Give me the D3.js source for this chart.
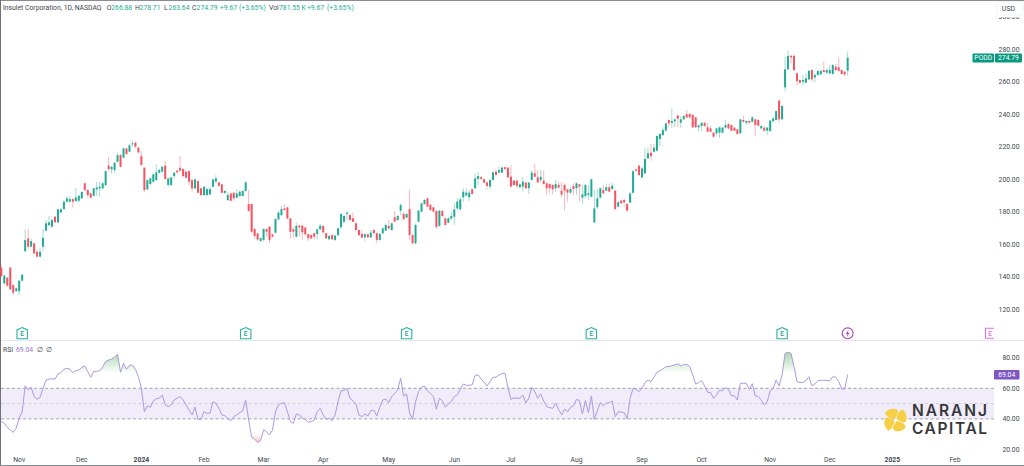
<!DOCTYPE html>
<html><head><meta charset="utf-8">
<script src="https://cdn.jsdelivr.net/npm/d3@7"></script>
<style>html,body{margin:0;padding:0;background:#fff;overflow:hidden}svg{display:block}text{font-family:Roboto,sans-serif}</style>
</head><body><svg id="c" width="1024" height="466"></svg>
<script>
const opens=[145.6,136,139.4,145.6,134.9,131.2,131.2,137.6,155.8,163.6,
158.5,160.6,155.4,152.4,158.5,168.4,171.8,170.8,177,173.5,
179.6,181.7,186.2,186.2,187.8,186.6,186.8,188.3,197.5,193.4,
191.3,189.9,193.8,194.4,194.4,196.5,208.4,206.1,205.7,210.8,
214.9,213.3,219,217,221.7,222.5,219.4,214.3,207.1,193.8,
197.1,198.5,199.5,204,204.7,208.4,196.5,196.5,202,205.3,
207.1,206.3,204.7,205,199.5,194.4,198.9,194.4,190.3,190.3,
190.7,195.4,198.5,198.1,196.9,191.7,187.2,191.3,191.7,188.7,
189.7,189.7,192.8,184.8,184.8,169.4,166.7,162,162.6,169.4,
170.8,166.1,167.1,175.3,178,182.1,182.7,175.9,169.2,164.7,
171.5,171.5,170.3,166.2,165.7,166.8,166.4,169.2,171.3,166.8,
163.1,165.7,162.7,165.7,170.5,173.9,178.7,178,176,172.9,
168.8,166.4,164.3,166.2,164.3,168.8,166.8,162.7,166.8,168.4,
171.3,168.8,176.6,175,180.7,178.7,176.4,181.7,165.7,160.6,
173.9,180.1,184.8,188.3,184.2,182.8,180.5,171.3,180.5,176,
173.3,175.8,177,182.1,181.5,188.9,190,188.9,193.8,194.5,
200.2,201.2,200,198.1,195.5,199.6,204.7,204.1,204.1,207.4,
207.2,201.6,199.2,199.2,195.1,195.5,198,194.5,199.6,203.7,
201.2,199.6,199.2,197.5,197.1,196.5,194.5,196.5,193,196.5,
193.8,191.8,195.9,194.5,196.9,188.7,189.7,190.4,189.3,173.5,
182.8,188.7,193.4,193,195.1,194,193,183.2,186.9,187.3,
184.8,185.6,191.7,206.1,208.4,201.2,203.7,212.9,216.4,217,
217.6,224.8,227.2,229.9,236.5,234.8,235.7,239.3,234.8,236.9,
240,240.2,239.6,238.1,232,232.8,234.8,232,231.3,228.7,
228.3,228.7,228.7,231.8,234,233.4,231.8,230.7,228.3,236.5,
234.8,235.9,235.4,236.9,236.5,231.3,231.8,229.9,229.7,235.7,
236.5,248.4,236.9,256.6,267.7,276,276,265.2,261.1,260,
259.4,261.5,267.2,262.7,264.2,264.6,267.2,265.6,265.2,264.8,
269.3,268.9,267.2,266.2,266.88];
const highs=[147.2,141.5,140,146.2,135.5,133.3,138,141.7,169.2,169.4,
163.6,161,156,157.5,169.6,174.9,177.4,175.9,177.4,181.9,
182.7,187.2,189.7,189.7,188.3,194.8,190.3,192.6,198.1,193.8,
191.9,194.8,198.5,198.5,198.5,205.5,213.9,208.1,210.6,216.4,
215.5,219.4,219.4,221.7,223.7,223.1,220,217.4,207.5,199.9,
201.2,203.6,209.2,206.7,208.1,211.4,201.2,201.2,204.7,205.7,
214.5,206.7,205,205.5,199.9,200.6,199.5,195,195.8,194.4,
195.4,200.4,202.6,198.5,197.3,193.4,192.4,191.7,192.2,193.8,
192.8,193.2,198.9,193.4,185.2,169.8,167.2,164.3,169.8,169.8,
171.2,166.5,176.1,180,183.5,184.6,183.1,176.3,170.5,173.3,
171.9,171.9,170.7,166.8,166.2,167.2,169.6,172.3,171.7,167.2,
166.2,166.2,165.7,170.3,179.1,178.3,180.1,178.7,179.7,173.9,
169.2,168.8,166.8,166.6,168.8,169.2,167.2,166.8,170.3,172.5,
175,173.3,180.5,178,185.2,180.1,179.1,193.4,166.2,172.9,
181.1,185.6,187.7,188.9,184.8,183.2,180.9,181.1,181.1,176.4,
177,180.1,185.2,188.3,188.9,194.5,194.5,193.4,194.2,203.7,
204.5,202,200.6,198.6,200,204.7,206.1,207.8,207.8,207.8,
207.6,208.8,199.6,199.6,197.5,201.2,198.4,198.4,205.7,209.4,
205.7,205.7,205.3,197.9,197.5,196.9,199.6,198.1,198.1,197.5,
194.2,195.5,197.5,198.3,197.3,196.5,196.9,196.1,200.4,193.4,
194,194.9,196.5,197.5,197.5,198,193.4,186.9,187.3,188.3,
185.2,192.4,205.7,206.7,208.8,207.8,219.6,219.6,221.7,221.7,
227,228.3,232,234.8,236.9,243.7,237.3,239.8,238.9,239.6,
242.6,240.6,240,238.5,233.6,235.2,235.2,234.4,232.8,229.1,
231.8,232.4,232.2,236.5,234.4,233.8,232.2,231.1,236.9,239.1,
236.3,236.3,238.9,237.3,236.9,233.4,232.2,232.2,236.5,237.9,
242.4,248.8,245.5,275.4,279.5,276.5,276.5,265.6,261.5,264.2,
265.2,267.2,267.6,265.2,267.2,267.7,272.4,268.3,270.3,270.9,
270.9,275,267.6,266.6,278.71];
const lows=[140,135.3,133.9,131.9,128.8,130.8,128.8,137,155,156.9,
158.1,153.8,151.8,151.8,155.8,168,171.2,170.2,172.9,172.9,
179.2,181.1,185.6,185.8,182.5,186.2,185.8,187.8,192.8,188.7,
188.3,189.5,189.7,189.3,193.8,195.8,204.7,203.6,203.6,210.4,
207.3,212.9,215.1,216.6,220,219.4,215.9,208.6,192,193.4,
196.5,197.9,199.1,203.6,204,199.5,195.4,196,200.6,203.2,
204.7,201.6,200.6,196.5,192.4,194,191.3,189.9,189.7,189.9,
190.1,195,198.1,195.6,191.3,190.9,186.8,186.4,186.8,188.3,
189.3,189.3,192.4,180,167.2,163.6,162.2,161.6,162.2,164.7,
160.6,164.3,166.7,174.9,177.4,180.7,175.5,163.6,163.7,164.1,
164.7,162.7,165.5,162,163.1,162.7,163.1,168.8,166.8,163.3,
162.7,162.5,162,165.1,170.1,172.9,175,174.4,173.5,167.8,
165.1,163.5,162,163.9,163.9,166.2,160.6,162.3,166.2,168,
169.2,168.4,173.5,174.4,178,175,176,162.7,160,160,
173.5,179.7,184.4,182.6,180.7,179.7,169.8,170.9,177,171.5,
172.9,175,171.9,181.5,181.1,186.2,189.5,186.7,190.6,194,
196.5,199.6,197.5,194,194,199.2,201.6,203.7,203.7,205.7,
200.6,195.1,196.1,194.5,194.5,192.4,194,191,199.2,201.2,
197.7,198.1,196.7,190.4,191.8,191,192.4,194.5,188.9,180.7,
186.3,191,190.4,190.4,186.3,185.2,188.3,187.3,188.9,172.9,
181.7,188.3,191,192.6,192,193.6,181.1,182.8,184.8,182.8,
180.3,185.2,191.2,204.7,202.2,200,203.2,212.5,211.4,216.6,
217.2,220.5,226.8,229.5,232.4,231.8,232,232,231.6,236.5,
237.7,237.7,231.6,231.6,229.3,229.7,232.4,228.9,228.9,225.6,
227.2,225.6,228.3,231.3,230.9,229.5,229.5,227.4,227.9,235,
233.4,234.4,235,226.6,232.4,230.7,229.5,227.2,229.3,235.2,
236.1,234.8,236.5,253.9,267.2,271.3,266.8,257.6,259,258,
259,261.1,260,259.4,263.8,264.2,265.6,265.2,264.8,264.4,
266.8,266.4,264.4,263.1,263.64];
const closes=[140.5,140.7,134.5,132.3,130.2,132.9,137.6,141.3,162.6,158.5,
162,154.4,152.4,155.4,164,172.9,173.5,174.9,173.5,181.5,
181.5,186.2,188.3,187.8,186.2,188.9,189.9,192.2,193.4,190.3,
188.7,194.4,195,195.4,197.5,205,206.3,207.7,210.2,214.9,
207.7,219,215.5,220.9,222.1,220,216.6,208.8,193.4,199.5,
200.6,203,204.3,205.7,207.7,200.2,200.6,201.2,204,204.3,
205.3,202,201,198.5,194.4,199.9,191.7,190.3,195.4,194,
194,199.9,200.6,196,191.7,192.8,190.3,186.8,188.3,191.3,
192.4,192.8,198.1,180.5,167.7,165.1,163,163.8,169.4,167.7,
162.6,164.7,175.5,179.6,181.7,181.1,175.9,167.7,167.8,171.3,
170.5,167.4,166.2,163.7,163.7,164.7,169.2,171.5,167.4,163.7,
165.1,163.1,165.3,169.8,178.7,177.4,179.5,175,173.9,168.8,
165.7,164.1,166.2,164.3,167.2,166.8,162.7,166.4,169.8,171.9,
169.8,172.9,174,177.4,184.2,175.4,178.7,165.7,160.6,171.9,
180.7,185.2,187.3,183.2,181.1,180.1,170.5,180.7,177.4,171.9,
176,177.4,181.5,186.3,187.7,192.4,191.8,191.8,191,200.6,
202,200.2,197.9,195.9,199.6,204.3,202.7,205.7,207.2,206.4,
201.2,195.5,196.5,195.9,196.9,198.6,194.5,198,204.1,201.6,
198.1,201.6,197.1,194.5,194.5,193.8,197.1,194.9,190.6,193,
191.8,194,194,197.5,195.5,190.8,196.5,191.4,200,182.1,
188.3,194.5,191.4,195.1,192.4,196.1,181.7,185.9,185.2,185.8,
180.7,191.3,205,205.3,202.6,206.7,212.5,216,214.3,219.4,
226.6,227.9,230.3,234.4,234.4,235.9,236.9,237.3,236.9,238.9,
238.1,238.1,232,232,233.2,234.8,232.8,229.3,229.3,226.2,
231.3,232,231.8,233.4,231.3,229.9,229.9,227.9,236.9,235.4,
235.9,234.8,238.1,233.4,233,232.8,229.9,231.8,236.1,237.5,
242,236.9,245.1,267.7,275.9,275,267.2,260.5,259.4,261.1,
262.1,266.8,261.5,264.2,266.6,266.6,266,267.2,267.2,270.3,
267.2,266.8,264.8,264.6,274.79];
const rsi=[38.2,37.1,34.5,32.8,31.2,33.9,40.4,44.7,61.7,58.9,
60.7,54.6,52.8,54.1,60,65.4,65.9,66.3,65.9,69.4,
70.2,72.4,73.1,72.6,70.2,71.5,72,73.7,74.6,70.9,
67.2,70.9,71.1,71.5,73.7,77.6,78.5,79,80.3,82.4,
70.5,76.3,72.4,75,75.3,72.4,67.6,60,44.7,48.5,
47.6,51.7,53.2,53.5,55.6,49.1,48,49.1,52.4,53.5,
54.6,52.4,49.1,45.8,42.6,47.6,39.7,39.7,44.7,43.7,
43.7,51.1,50.2,46.9,42.6,42.1,40.4,38.9,41.5,42.6,
44.1,45.4,52.4,39.3,28,26.7,24.7,25.8,32.8,31.7,
29.5,32.8,44.7,49.1,50.2,50.6,44.7,38.2,37.1,43.2,
42.6,40.4,39.7,37.8,38.2,39.3,44.7,46.9,42.6,39.7,
40.4,38.9,42.6,51.3,58.5,58.5,60,53.5,51.7,49.8,
42.6,41.5,43.2,41.9,45.4,45.8,41.9,47.6,52.4,53,
50.6,54.6,56.7,58.9,66.5,55,56.3,43.7,39.7,51.3,
57.8,60.7,61.5,58.3,56.7,54.6,46.3,53.5,51.9,47.6,
49.8,51.3,54.6,55.6,59.3,62.8,62,62,62.2,68.5,
68.7,66.1,63.9,61.5,64.4,67.2,67.2,68.7,69.6,69.8,
60.4,52.8,53.7,53.5,53.5,55.6,50.6,53.5,60.7,57.8,
53.5,56.3,51.7,48,47.4,46.9,50.2,46.3,42.6,46.3,
44.7,47.6,48.5,52.8,51.9,43.2,51.9,44.1,55,39.7,
45.4,50.6,48.5,50.2,50.6,51.7,41.5,44.7,44.5,44.1,
40,53.5,60,59.3,57.8,60,63.7,65.4,64.4,67.2,
70.5,71.5,72.6,74.2,74.2,74.8,75.3,75.9,74.6,75.5,
75.7,74.2,68.7,62.8,63.7,65,61.5,57.4,57.2,53.5,
55.6,58.9,58.3,60.4,59.3,55,55.2,52.4,63.3,63.3,
63.3,59.3,63,55,54.6,52.4,49.1,51.3,58.3,60,
65.4,61.5,68.7,82.9,83.5,82.9,74.2,64.4,63.7,63.9,
65,67.6,61.7,62.8,65,65.2,65.2,65.2,64.8,67.6,
67.2,64.4,59.6,59.6,69.04];
const monthLabels=["Nov","Dec","2024","Feb","Mar","Apr","May","Jun","Jul","Aug","Sep","Oct","Nov","Dec","2025","Feb"];
const monthBars=[6,27,47,68,88,108,130,152,171,193,215,235,258,278,299,320];
const priceTicks=[300,280,260,240,220,200,180,160,140,120];
const rsiTicks=[80,60,40,20];
const rsiLevels=[60,50,40];
const earningsBars=[7,82,136,198,262];

const UP="#22ab94",DN="#f7525f",TX="#434651",TEAL="#089981",PUR="#7e57c2";
const svg=d3.select("#c");
const x=d3.scaleLinear().domain([0,320]).range([1.33,954.93]);
const y=d3.scaleLinear().domain([120,280]).range([309.3,49.3]);
const ry=d3.scaleLinear().domain([20,80]).range([449.5,357.7]);
const idx=d3.range(opens.length);

// frame
const frame="#8a8c94";
svg.append("line").attr("x1",0).attr("x2",1024).attr("y1",0.5).attr("y2",0.5).attr("stroke",frame);
svg.append("line").attr("x1",0.5).attr("x2",0.5).attr("y1",0).attr("y2",466).attr("stroke","#6f7178");
svg.append("line").attr("x1",0).attr("x2",1024).attr("y1",465.5).attr("y2",465.5).attr("stroke",frame);
svg.append("line").attr("x1",1).attr("x2",1024).attr("y1",340.5).attr("y2",340.5).attr("stroke","#e6e4f2");

// RSI band
svg.append("rect").attr("x",1).attr("width",993).attr("y",ry(60)).attr("height",ry(40)-ry(60)).attr("fill","#f0ecf9");
rsiLevels.forEach(v=>svg.append("line").attr("x1",1).attr("x2",994).attr("y1",ry(v)).attr("y2",ry(v))
  .attr("stroke",v==50?"#c9c6d2":"#8f8c98").attr("stroke-width",.8).attr("stroke-dasharray","3,2.5"));

// gradients
const defs=svg.append("defs");
const g1=defs.append("linearGradient").attr("id","ob").attr("x1",0).attr("x2",0).attr("gradientUnits","userSpaceOnUse")
  .attr("y1",ry(84)).attr("y2",ry(70));
g1.append("stop").attr("offset",0).attr("stop-color","#4caf50").attr("stop-opacity",.5);
g1.append("stop").attr("offset",1).attr("stop-color","#4caf50").attr("stop-opacity",0);
const g2=defs.append("linearGradient").attr("id","os").attr("gradientUnits","userSpaceOnUse").attr("x1",0).attr("x2",0).attr("y1",ry(24)).attr("y2",ry(30));
g2.append("stop").attr("offset",0).attr("stop-color","#ef5350").attr("stop-opacity",.4);
g2.append("stop").attr("offset",1).attr("stop-color","#ef5350").attr("stop-opacity",0);
svg.append("path").attr("fill","url(#ob)").attr("d",d3.area().x(i=>x(i)).y0(ry(70)).y1(i=>ry(Math.max(rsi[i],70)))(idx));
svg.append("path").attr("fill","url(#os)").attr("d",d3.area().x(i=>x(i)).y0(ry(30)).y1(i=>ry(Math.min(rsi[i],30)))(idx));
svg.append("path").attr("fill","none").attr("stroke","#ab9ae4").attr("stroke-width",1)
  .attr("d",d3.line().x(i=>x(i)).y(i=>ry(rsi[i]))(idx));

// candles
const c=svg.append("g").selectAll("g").data(idx).join("g");
c.append("line").attr("x1",i=>x(i)).attr("x2",i=>x(i)).attr("y1",i=>y(highs[i])).attr("y2",i=>y(lows[i]))
 .attr("stroke",i=>closes[i]>=opens[i]?UP:DN).attr("stroke-width",1).attr("stroke-opacity",.42);
c.append("rect").attr("x",i=>x(i)-1).attr("width",2)
 .attr("y",i=>y(Math.max(opens[i],closes[i])))
 .attr("height",i=>Math.max(1,Math.abs(y(opens[i])-y(closes[i]))))
 .attr("fill",i=>closes[i]>=opens[i]?UP:DN);

// price axis
svg.append("g").selectAll("text").data(priceTicks).join("text").attr("x",1019.5).attr("y",d=>y(d)).attr("dy","0.35em")
 .attr("text-anchor","end").attr("font-size",6.8).attr("fill",TX).text(d=>d.toFixed(2));
svg.append("rect").attr("x",996).attr("y",1).attr("width",28).attr("height",16.2).attr("fill","#fff");
svg.append("rect").attr("x",997).attr("y",1.5).attr("width",26).attr("height",13.5).attr("rx",1.5).attr("fill","#fff").attr("stroke","#eceef2").attr("stroke-width",.7);
svg.append("text").attr("x",1008.5).attr("y",8.2).attr("dy","0.35em").attr("text-anchor","middle").attr("font-size",7).attr("fill",TX).text("USD");
// RSI axis
svg.append("g").selectAll("text").data(rsiTicks).join("text").attr("x",1019.5).attr("y",d=>ry(d)).attr("dy","0.35em")
 .attr("text-anchor","end").attr("font-size",6.8).attr("fill",TX).text(d=>d.toFixed(2));

// last price labels
svg.append("rect").attr("x",972.5).attr("y",53.5).attr("width",21.5).attr("height",9).attr("rx",1).attr("fill",TEAL);
svg.append("rect").attr("x",995).attr("y",53.5).attr("width",27).attr("height",9).attr("rx",1).attr("fill",TEAL);
svg.append("text").attr("x",983.3).attr("y",58).attr("dy","0.35em").attr("text-anchor","middle").attr("font-size",6.8).attr("fill","#fff").text("PODD");
svg.append("text").attr("x",1008.5).attr("y",58).attr("dy","0.35em").attr("text-anchor","middle").attr("font-size",6.8).attr("fill","#fff").text("274.79");
svg.append("rect").attr("x",994).attr("y",370).attr("width",25.5).attr("height",9.4).attr("rx",1).attr("fill",PUR);
svg.append("text").attr("x",1006.7).attr("y",374.7).attr("dy","0.35em").attr("text-anchor","middle").attr("font-size",6.8).attr("fill","#fff").text("69.04");

// time axis
svg.append("g").selectAll("text").data(monthLabels).join("text").attr("x",(d,i)=>x(monthBars[i])).attr("y",459.3).attr("dy","0.35em")
 .attr("text-anchor","middle").attr("font-size",6.8).attr("font-weight",d=>/^\d/.test(d)?700:400).attr("fill",TX).text(d=>d);

// legend
const leg=svg.append("g").attr("font-size",6.8);
function T(px,py,s,col){leg.append("text").attr("x",px).attr("y",py).attr("dy","0.35em").attr("fill",col).text(s);}
T(3,7.3,"Insulet Corporation, 1D, NASDAQ",TX);
[["O",106.7,"266.88"],["H",135,"278.71"],["L",164,"263.64"],["C",192,"274.79"]].forEach(a=>{T(a[1],7.3,a[0],TX);T(a[1]+4.6,7.3,a[2],UP);});
T(220,7.3,"+9.67",UP);T(239,7.3,"(+3.65%)",UP);T(269,7.3,"Vol",TX);T(279,7.3,"781.55 K",UP);T(307,7.3,"+9.67",UP);T(327,7.3,"(+3.65%)",UP);
T(3,349.3,"RSI",TX);T(16,349.3,"69.04","#9575cd");T(37,349.3,"∅",TX);T(46,349.3,"∅",TX);

// event markers
const house="M0,-5.8L5.2,-3.4V5.4H-5.2V-3.4Z";
const ev=svg.append("g").attr("transform","translate(0,333.3)");
earningsBars.forEach(b=>{
  const g=ev.append("g").attr("transform",`translate(${x(b)},0)`);
  g.append("path").attr("d",house).attr("fill","#fff").attr("stroke","#2bb3a3").attr("stroke-width",1.1);
  g.append("text").attr("text-anchor","middle").attr("dy","0.35em").attr("y",0.3).attr("font-size",6.6).attr("font-weight",500).attr("fill","#1f9e8f").text("E");
});
const lz=ev.append("g").attr("transform",`translate(${x(284)},0)`);
lz.append("circle").attr("r",5.4).attr("fill","#fff").attr("stroke","#ab47bc").attr("stroke-width",1.1);
lz.append("path").attr("d","M1,-3.6L-2,0.6H-0.2L-1,3.6L2,-0.6H0.2Z").attr("fill","#ab47bc");
const pe=ev.append("g").attr("transform","translate(990,0)");
pe.append("path").attr("d","M4,-5H-4.5V5H4").attr("fill","#fff").attr("stroke","#e66ef0").attr("stroke-width",1.1);
pe.append("text").attr("text-anchor","middle").attr("dy","0.35em").attr("font-size",6.6).attr("font-weight",500).attr("fill","#e66ef0").text("E");

// brand
const logo=svg.append("g").attr("transform","translate(895.5,420)");
[0,90,180,270].forEach(a=>logo.append("path").attr("transform",`rotate(${a})`)
  .attr("d","M-1,-1C-5,-2 -9,-3 -10.5,-7C-8,-11 -2,-12 1.5,-10.5C4,-7 1,-4 -1,-1Z").attr("fill","#f7cf45"));
const br=svg.append("g").attr("font-size",15.5).attr("font-weight",600).attr("fill","#37373a");
br.append("text").attr("x",912).attr("y",416).attr("textLength",75).attr("style","font-family:Inter,sans-serif").text("NARANJ");
br.append("text").attr("x",912).attr("y",434).attr("textLength",75).attr("style","font-family:Inter,sans-serif").text("CAPITAL");
</script></body></html>
